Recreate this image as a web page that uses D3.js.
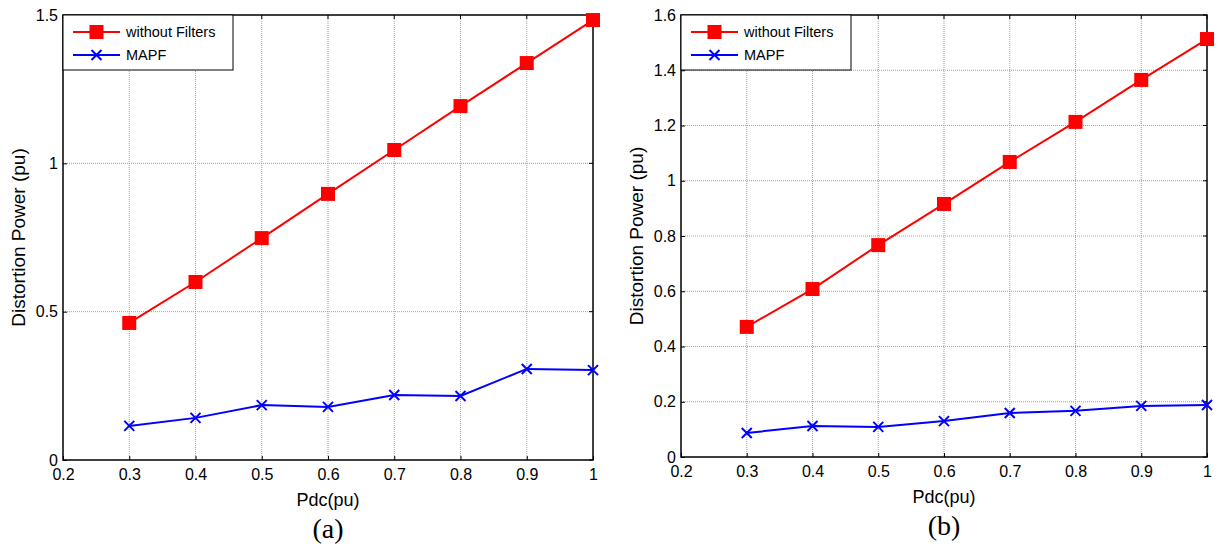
<!DOCTYPE html>
<html><head><meta charset="utf-8">
<script src="https://cdn.jsdelivr.net/npm/d3@7"></script>
<style>body{margin:0;background:#fff}svg text{font-family:Arial,"Liberation Sans",sans-serif}</style>
</head><body><svg id="c" width="1218" height="548"></svg>
<script>
const pdc = [0.3,0.4,0.5,0.6,0.7,0.8,0.9,1.0];
const aWithout = [0.462,0.600,0.748,0.897,1.045,1.193,1.338,1.483];
const aMAPF    = [0.115,0.142,0.185,0.179,0.219,0.216,0.307,0.303];
const bWithout = [0.471,0.608,0.767,0.916,1.068,1.213,1.365,1.513];
const bMAPF    = [0.087,0.112,0.109,0.130,0.159,0.167,0.185,0.188];
const xTicks = [0.2,0.3,0.4,0.5,0.6,0.7,0.8,0.9,1];
const aYTicks = [0,0.5,1,1.5];
const bYTicks = [0,0.2,0.4,0.6,0.8,1,1.2,1.4,1.6];
const seriesNames = ["without Filters","MAPF"];
const panelLabels = ["(a)","(b)"];

const svg = d3.select("#c");

function panel(cfg){
  const g = svg.append("g");
  const x = d3.scaleLinear().domain([0.2,1]).range([cfg.x0,cfg.x1]);
  const y = d3.scaleLinear().domain([0,cfg.ymax]).range([cfg.y1,cfg.y0]);
  // grid
  g.append("g").selectAll("line").data(xTicks.slice(1,-1)).join("line")
    .attr("x1",d=>x(d)).attr("x2",d=>x(d)).attr("y1",cfg.y0).attr("y2",cfg.y1)
    .attr("stroke","#a0a0a0").attr("stroke-width",1).attr("stroke-dasharray","1,1");
  g.append("g").selectAll("line").data(cfg.yTicks.slice(1,-1)).join("line")
    .attr("x1",cfg.x0).attr("x2",cfg.x1).attr("y1",d=>y(d)).attr("y2",d=>y(d))
    .attr("stroke","#a0a0a0").attr("stroke-width",1).attr("stroke-dasharray","1,1");
  // axes
  const xa = g.append("g").attr("transform",`translate(0,${cfg.y1})`)
    .call(d3.axisBottom(x).tickValues(xTicks).tickFormat(d3.format("")).tickSize(-4).tickPadding(9));
  const ya = g.append("g").attr("transform",`translate(${cfg.x0},0)`)
    .call(d3.axisLeft(y).tickValues(cfg.yTicks).tickFormat(d3.format("")).tickSize(-4).tickPadding(5));
  [xa,ya].forEach(a=>{a.select(".domain").remove();a.selectAll("text").attr("font-size",16).attr("fill","#000").style("font-family","Arial");a.selectAll("line").attr("stroke","#000");});
  // top/right ticks
  g.append("g").selectAll("line").data(xTicks).join("line")
    .attr("x1",d=>x(d)).attr("x2",d=>x(d)).attr("y1",cfg.y0).attr("y2",cfg.y0+4).attr("stroke","#000");
  g.append("g").selectAll("line").data(cfg.yTicks).join("line")
    .attr("x1",cfg.x1).attr("x2",cfg.x1-4).attr("y1",d=>y(d)).attr("y2",d=>y(d)).attr("stroke","#000");
  // box
  g.append("rect").attr("x",cfg.x0).attr("y",cfg.y0).attr("width",cfg.x1-cfg.x0).attr("height",cfg.y1-cfg.y0)
    .attr("fill","none").attr("stroke","#000").attr("stroke-width",1.5);
  // lines
  const line = d3.line().x((d,i)=>x(pdc[i])).y(d=>y(d));
  g.append("path").datum(cfg.w).attr("d",line).attr("fill","none").attr("stroke","#ff0000").attr("stroke-width",2);
  g.append("path").datum(cfg.m).attr("d",line).attr("fill","none").attr("stroke","#0000ff").attr("stroke-width",2);
  g.append("g").selectAll("rect").data(cfg.w).join("rect")
    .attr("x",(d,i)=>x(pdc[i])-7).attr("y",d=>y(d)-7).attr("width",14).attr("height",14).attr("fill","#ff0000");
  const s=5;
  g.append("g").selectAll("path").data(cfg.m).join("path")
    .attr("d",(d,i)=>{const cx=x(pdc[i]),cy=y(d);return `M${cx-s},${cy-s}L${cx+s},${cy+s}M${cx-s},${cy+s}L${cx+s},${cy-s}`;})
    .attr("stroke","#0000ff").attr("stroke-width",2).attr("fill","none");
  // legend
  const lx=cfg.x0, ly=cfg.y0;
  g.append("rect").attr("x",lx).attr("y",ly).attr("width",170).attr("height",55).attr("fill","#fff").attr("stroke","#000").attr("stroke-width",1);
  g.append("line").attr("x1",lx+10).attr("x2",lx+57).attr("y1",ly+17).attr("y2",ly+17).attr("stroke","#ff0000").attr("stroke-width",2);
  g.append("rect").attr("x",lx+33.5-7).attr("y",ly+17-7).attr("width",14).attr("height",14).attr("fill","#ff0000");
  g.append("line").attr("x1",lx+10).attr("x2",lx+57).attr("y1",ly+40).attr("y2",ly+40).attr("stroke","#0000ff").attr("stroke-width",2);
  g.append("path").attr("d",`M${lx+33.5-s},${ly+40-s}L${lx+33.5+s},${ly+40+s}M${lx+33.5-s},${ly+40+s}L${lx+33.5+s},${ly+40-s}`).attr("stroke","#0000ff").attr("stroke-width",2);
  g.append("text").attr("x",lx+63).attr("y",ly+22).attr("font-size",14.5).text(seriesNames[0]);
  g.append("text").attr("x",lx+63).attr("y",ly+45).attr("font-size",14.5).text(seriesNames[1]);
  // labels
  const cx=(cfg.x0+cfg.x1)/2;
  g.append("text").attr("x",cx).attr("y",cfg.y1+46).attr("text-anchor","middle").attr("font-size",18).text("Pdc(pu)");
  g.append("text").attr("transform",`translate(${cfg.x0-38},${(cfg.y0+cfg.y1)/2}) rotate(-90)`).attr("text-anchor","middle").attr("font-size",19).text("Distortion Power (pu)");
  g.append("text").attr("x",cx).attr("y",cfg.y1+78).attr("text-anchor","middle").attr("font-size",28).style("font-family","'Liberation Serif','Times New Roman',serif").text(cfg.label);
}

panel({x0:63,x1:593,y0:15,y1:460,ymax:1.5,yTicks:aYTicks,w:aWithout,m:aMAPF,label:panelLabels[0]});
panel({x0:681,x1:1207,y0:15,y1:457,ymax:1.6,yTicks:bYTicks,w:bWithout,m:bMAPF,label:panelLabels[1]});
</script></body></html>
